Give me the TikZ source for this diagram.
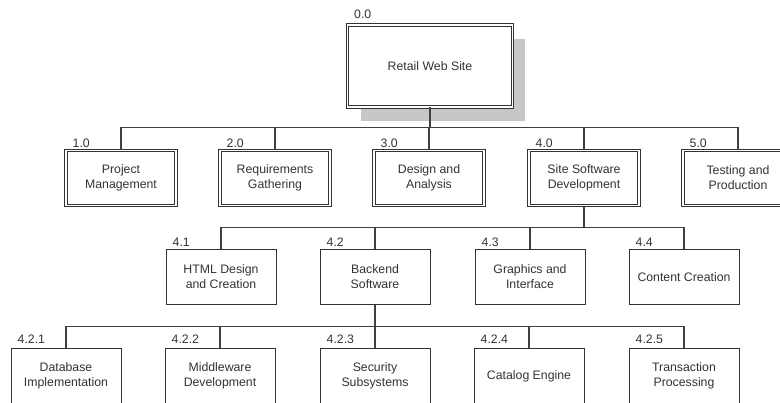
\documentclass[tikz,border=0pt]{standalone}
\usepackage{fontspec}
\setmainfont{Liberation Sans}
\usetikzlibrary{shadows}

\tikzset{
  wbs/.style={draw=black!80, fill=white, text=black!80, align=center,
    minimum width=2.2cm, minimum height=1.1cm, inner sep=1pt,
    line width=0.5pt, font=\fontsize{7}{8.5}\selectfont},
  phase/.style={wbs, double, double distance=0.9pt, line width=0.45pt},
  topbox/.style={phase, minimum width=3.3cm, minimum height=1.64cm,
    drop shadow={shadow xshift=0.26cm, shadow yshift=-0.28cm, fill=black!22, opacity=1}},
  task/.style={wbs},
  num/.style={anchor=south west, inner sep=1pt, xshift=0.1cm, text=black!80,
    font=\fontsize{7}{8.5}\selectfont},
  link/.style={draw=black!75, line width=0.6pt}
}

\begin{document}
\begin{tikzpicture}[x=0.02cm, y=-0.02cm]
  \useasboundingbox (0,0) rectangle (780,402);

  % Project
  \node[topbox] (site) at (430,66) {Retail Web Site};

  % Phases
  \node[phase] (pm)  at (121,178) {Project\\Management};
  \node[phase] (rg)  at (275,178) {Requirements\\Gathering};
  \node[phase] (da)  at (429,178) {Design and\\Analysis};
  \node[phase] (ssd) at (584,178) {Site Software\\Development};
  \node[phase] (tp)  at (738,178) {Testing and\\Production};

  % Site software tasks
  \node[task] (html) at (221,277) {HTML Design\\and Creation};
  \node[task] (be)   at (375,277) {Backend\\Software};
  \node[task] (gi)   at (530,277) {Graphics and\\Interface};
  \node[task] (cc)   at (684,277) {Content Creation};

  % Backend tasks
  \node[task] (db)  at (66,376)  {Database\\Implementation};
  \node[task] (mw)  at (220,376) {Middleware\\Development};
  \node[task] (sec) at (375,376) {Security\\Subsystems};
  \node[task] (cat) at (529,376) {Catalog Engine};
  \node[task] (tx)  at (684,376) {Transaction\\Processing};

  % WBS numbers
  \node[num, yshift=0.07cm] (site-num) at (site.north west) {0.0};
  \foreach \n/\t in {pm/1.0, rg/2.0, da/3.0, ssd/4.0, tp/5.0,
                     html/4.1, be/4.2, gi/4.3, cc/4.4}
    \node[num] (\n-num) at (\n.north west) {\t};
  \foreach \n/\t in {db/4.2.1, mw/4.2.2, sec/4.2.3, cat/4.2.4, tx/4.2.5}
    \node[num, yshift=0.05cm] (\n-num) at (\n.north west) {\t};

  % Connectors
  \draw[link, line width=0.9pt] (site.south) -- ++(0,20);
  \foreach \c in {pm, rg, da, ssd, tp}
    \draw[link] (site.south) -- ++(0,20) -| (\c.north);
  \foreach \c in {html, be, gi, cc}
    \draw[link] (ssd.south) -- ++(0,22) -| (\c.north);
  \foreach \c in {db, mw, sec, cat, tx}
    \draw[link] (be.south) -- ++(0,22) -| (\c.north);
\end{tikzpicture}
\end{document}
